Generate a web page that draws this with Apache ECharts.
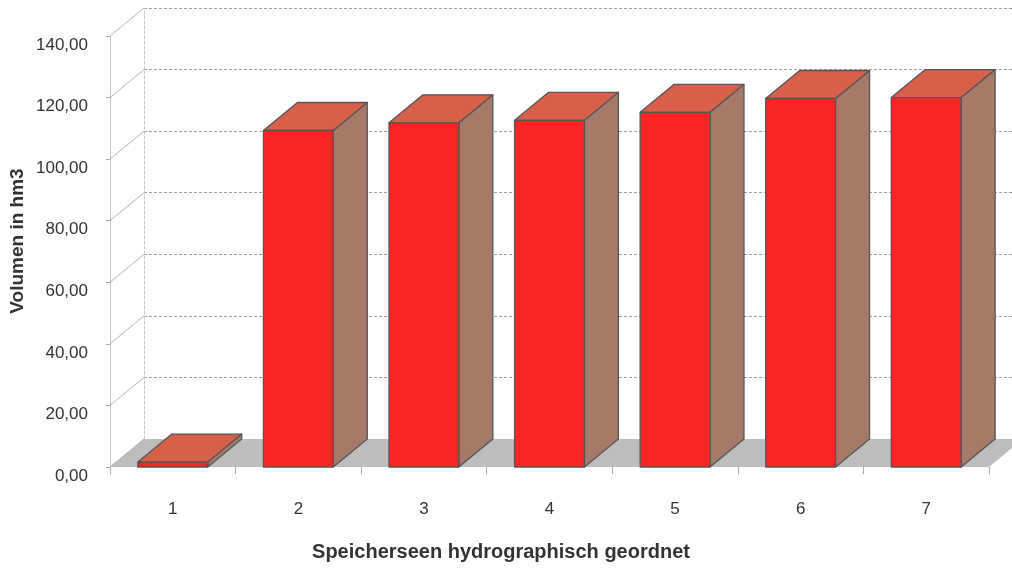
<!DOCTYPE html>
<html>
<head>
<meta charset="utf-8">
<script src="https://cdn.jsdelivr.net/npm/echarts@6/dist/echarts.min.js"></script>
<style>
  html, body { margin: 0; padding: 0; background: #ffffff; }
  #chart { width: 1012px; height: 568px; }
</style>
</head>
<body>
<div id="chart"></div>
<script>
// Reservoirs in hydrographic order and their storage volume (hm3)
const categories = ['1', '2', '3', '4', '5', '6', '7'];
const volumes = [1.6, 109.3, 111.8, 112.6, 115.2, 119.7, 120.0];
const yTicks = [0, 20, 40, 60, 80, 100, 120, 140];

const yMin = yTicks[0];
const yMax = yTicks[yTicks.length - 1];
const yStep = yTicks[1] - yTicks[0];

// Oblique projection used for the pseudo-3D depth
const DX = 34;
const DY = -28;

const FONT = '"Liberation Sans", Arial, sans-serif';
const fmt = v => v.toFixed(2).replace('.', ',');

const chart = echarts.init(document.getElementById('chart'), null, { renderer: 'canvas' });

function renderFloor(params, api) {
  const cs = params.coordSys;
  const y0 = api.coord([0, yMin])[1];
  return {
    type: 'polygon',
    shape: { points: [[cs.x, y0], [cs.x + cs.width, y0], [cs.x + cs.width + DX, y0 + DY], [cs.x + DX, y0 + DY]] },
    style: { fill: '#bdbdbd', stroke: null },
    silent: true
  };
}

function renderSideWall(params, api) {
  const cs = params.coordSys;
  const y = api.coord([0, api.value(0)])[1];
  return {
    type: 'line',
    shape: { x1: cs.x, y1: y, x2: cs.x + DX, y2: y + DY },
    style: { stroke: '#b4b4b4', lineWidth: 1 },
    silent: true
  };
}

function renderBar(params, api) {
  const i = api.value(0);
  const v = api.value(1);
  const top = api.coord([i, v]);
  const base = api.coord([i, yMin]);
  const w = api.size([1, 0])[0] * 0.556;
  const x1 = top[0] - w / 2;
  const x2 = top[0] + w / 2;
  const yt = top[1];
  const yb = base[1];
  const edge = { stroke: '#555555', lineWidth: 1.3, lineJoin: 'round' };
  return {
    type: 'group',
    children: [
      {
        type: 'polygon',
        shape: { points: [[x2, yt], [x2 + DX, yt + DY], [x2 + DX, yb + DY], [x2, yb]] },
        style: Object.assign({ fill: '#a67a68' }, edge)
      },
      {
        type: 'polygon',
        shape: { points: [[x1, yt], [x2, yt], [x2 + DX, yt + DY], [x1 + DX, yt + DY]] },
        style: Object.assign({ fill: '#d8604a' }, edge)
      },
      {
        type: 'rect',
        shape: { x: x1, y: yt, width: w, height: yb - yt },
        style: Object.assign({ fill: '#fb2424' }, edge)
      }
    ]
  };
}

const option = {
  backgroundColor: '#ffffff',
  animation: false,
  grid: [
    { left: 110, right: 23, top: 36, bottom: 101 },
    { left: 110 + DX, right: 23 - DX, top: 36 + DY, bottom: 101 - DY }
  ],
  xAxis: [
    {
      type: 'category', gridIndex: 0, data: categories,
      axisLine: { show: false },
      axisTick: { show: true, length: 7, alignWithLabel: false, lineStyle: { color: '#aaaaaa' } },
      axisLabel: { margin: 34, fontFamily: FONT, fontSize: 17, color: '#333333' },
      splitLine: { show: false }
    },
    {
      type: 'category', gridIndex: 1, data: categories, show: false
    }
  ],
  yAxis: [
    {
      type: 'value', gridIndex: 0, min: yMin, max: yMax, interval: yStep,
      axisLine: { show: true, lineStyle: { color: '#c4c4c4' } },
      axisTick: { show: true, length: 4, lineStyle: { color: '#aaaaaa' } },
      axisLabel: {
        margin: 22, fontFamily: FONT, fontSize: 17, color: '#333333',
        verticalAlign: 'top', lineHeight: 18,
        formatter: fmt
      },
      splitLine: { show: false }
    },
    {
      type: 'value', gridIndex: 1, min: yMin, max: yMax, interval: yStep,
      axisLine: { show: true, lineStyle: { color: '#c8c8c8', type: [3, 2] } },
      axisTick: { show: false },
      axisLabel: { show: false },
      splitLine: { show: true, lineStyle: { color: '#a0a0a0', type: [3, 2], width: 1 } }
    }
  ],
  series: [
    {
      type: 'custom', xAxisIndex: 0, yAxisIndex: 0, z: 1,
      data: [[0]],
      renderItem: renderFloor
    },
    {
      type: 'custom', xAxisIndex: 0, yAxisIndex: 0, z: 1,
      data: yTicks.map(t => [t]),
      renderItem: renderSideWall
    },
    {
      type: 'custom', xAxisIndex: 0, yAxisIndex: 0, z: 3,
      data: volumes.map((v, i) => [i, v]),
      encode: { x: 0, y: 1 },
      renderItem: renderBar
    }
  ],
  graphic: [
    {
      type: 'text', x: 501, y: 552,
      style: { text: 'Speicherseen hydrographisch geordnet', font: 'bold 20px ' + FONT, fill: '#333333', align: 'center', verticalAlign: 'middle' }
    },
    {
      type: 'text', x: 18, y: 241, rotation: Math.PI / 2,
      style: { text: 'Volumen in hm3', font: 'bold 19px ' + FONT, fill: '#333333', align: 'center', verticalAlign: 'middle' }
    }
  ]
};

chart.setOption(option);
</script>
</body>
</html>
